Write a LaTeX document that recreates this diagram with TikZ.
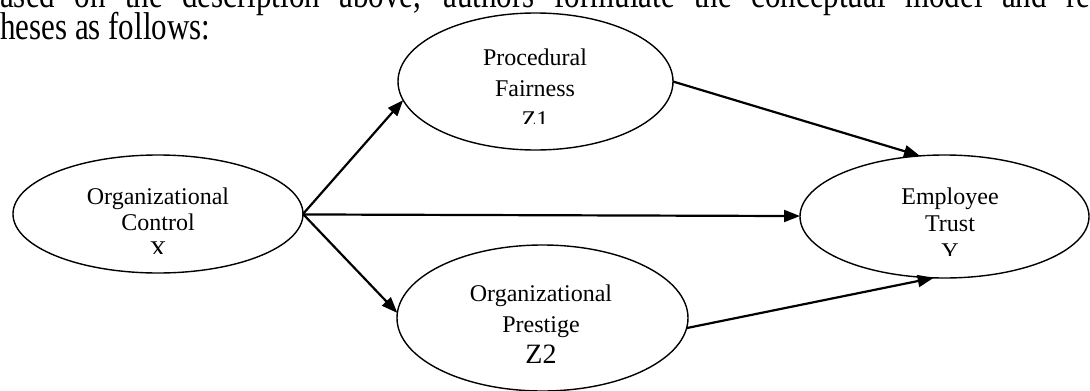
\documentclass[tikz,border=0pt]{standalone}
\usepackage{graphicx}
\usepackage{fontspec}
\setmainfont{Liberation Serif}
\usetikzlibrary{shapes.geometric,arrows.meta}
\begin{document}
\begin{tikzpicture}[x=1pt,y=-1pt,
  oval/.style={ellipse,draw,line width=1.4pt,inner sep=0pt,outer sep=0pt},
  lbl/.style={inner sep=0pt,align=center,anchor=base},
  bodytext/.style={inner sep=0pt,anchor=base west,font=\fontsize{31}{32}\selectfont},
  link/.style={line width=2.2pt,-{Triangle[length=16pt,width=12pt]}}]
\useasboundingbox (0,0) rectangle (1090,391);
\clip (0,0) rectangle (1090,391);
% running text of the page
\node[bodytext] (line1) at (0,7.5) {\scalebox{1}[1.25]{\makebox[1090pt][s]{ased on the description above, authors formulate the conceptual model and re}}};
\node[bodytext] (line2) at (0,39.3) {\scalebox{1}[1.25]{heses as follows:}};
% ellipses
\node[oval,minimum width=290pt,minimum height=118pt] (X) at (158,214) {};
\node[oval,minimum width=275pt,minimum height=137pt] (Z1) at (535.5,81.5) {};
\node[oval,minimum width=291pt,minimum height=146pt] (Z2) at (542.5,318) {};
\node[oval,minimum width=289pt,minimum height=123pt] (Y) at (944.5,216.5) {};
% labels (anchor base = baseline of the last line)
\begin{scope}
  \clip (40,170) rectangle (280,253);
  \node[lbl,font=\fontsize{24}{26.7}\selectfont] (Xt) at (158,257.4) {Organizational\\Control\\X};
\end{scope}
\begin{scope}
  \clip (420,30) rectangle (650,123);
  \node[lbl,font=\fontsize{24}{31}\selectfont] (Z1t) at (535,127) {Procedural\\Fairness\\Z1};
\end{scope}
\node[lbl,font=\fontsize{24}{31}\selectfont] (Z2t) at (541,363) {Organizational\\Prestige\\{\fontsize{28}{32}\selectfont Z2}};
\begin{scope}
  \clip (830,170) rectangle (1070,255);
  \node[lbl,font=\fontsize{24}{27.5}\selectfont] (Yt) at (950,259) {Employee\\Trust\\Y};
\end{scope}
% connectors
\draw[link] (X.east) -- (Z1.188);
\draw[link] (X.east) -- (Z2.178);
\draw[link] (X) -- (Y);
\draw[link] (Z1.east) -- (Y.112);
\draw[link] (Z2.356) -- (Y.260);
\end{tikzpicture}
\end{document}
